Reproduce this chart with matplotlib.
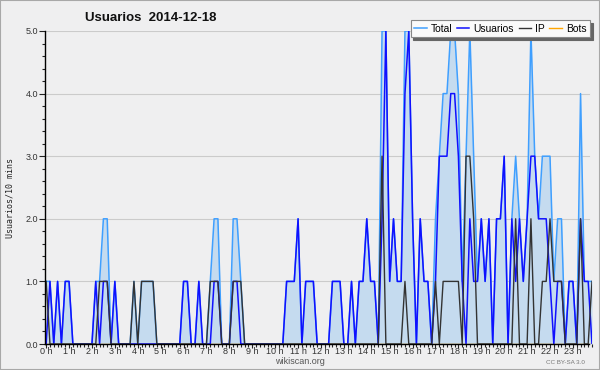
import matplotlib
matplotlib.use("Agg")
import matplotlib.pyplot as plt
from matplotlib.patches import Rectangle
import numpy as np

plt.rcParams['font.family'] = ['Liberation Sans', 'DejaVu Sans']

title = "Usuarios  2014-12-18"
ylabel = "Usuarios/10 mins"
hour_labels = [f"{h} h" for h in range(24)]
series_names = ["Total", "Usuarios", "IP", "Bots"]

# one value per 10 minutes (144 slots), rows of one hour
total = [
    1, 1, 0, 1, 0, 1,   1, 0, 0, 0, 0, 0,   0, 1, 1, 2, 2, 0,   1, 0, 0, 0, 0, 1,
    0, 1, 1, 1, 1, 0,   0, 0, 0, 0, 0, 0,   1, 1, 0, 0, 1, 0,   0, 1, 2, 2, 0, 0,
    0, 2, 2, 1, 0, 0,   0, 0, 0, 0, 0, 0,   0, 0, 0, 1, 1, 1,   2, 0, 1, 1, 1, 0,
    0, 0, 0, 1, 1, 1,   0, 0, 1, 0, 1, 1,   2, 1, 1, 0, 5, 5,   1, 2, 1, 1, 5, 5,
    2, 0, 2, 1, 1, 0,   2, 3, 4, 4, 5, 5,   4, 1, 3, 5, 3, 1,   2, 1, 2, 0, 2, 2,
    3, 0, 2, 3, 2, 1,   2, 5, 3, 2, 3, 3,   3, 1, 2, 2, 0, 1,   1, 0, 4, 1, 1, 1,
]
usuarios = [
    0, 1, 0, 1, 0, 1,   1, 0, 0, 0, 0, 0,   0, 1, 0, 1, 1, 0,   1, 0, 0, 0, 0, 0,
    0, 0, 0, 0, 0, 0,   0, 0, 0, 0, 0, 0,   1, 1, 0, 0, 1, 0,   0, 0, 1, 1, 0, 0,
    0, 1, 1, 0, 0, 0,   0, 0, 0, 0, 0, 0,   0, 0, 0, 1, 1, 1,   2, 0, 1, 1, 1, 0,
    0, 0, 0, 1, 1, 1,   0, 0, 1, 0, 1, 1,   2, 1, 1, 0, 2, 5,   1, 2, 1, 1, 4, 5,
    2, 0, 2, 1, 1, 0,   1, 3, 3, 3, 4, 4,   3, 1, 0, 2, 1, 1,   2, 1, 2, 0, 2, 2,
    3, 0, 2, 1, 2, 1,   2, 3, 3, 2, 2, 2,   1, 0, 1, 1, 0, 1,   1, 0, 2, 1, 1, 0,
]
ip = [
    1, 0, 0, 0, 0, 0,   0, 0, 0, 0, 0, 0,   0, 0, 1, 1, 1, 0,   0, 0, 0, 0, 0, 1,
    0, 1, 1, 1, 1, 0,   0, 0, 0, 0, 0, 0,   0, 0, 0, 0, 0, 0,   0, 1, 1, 1, 0, 0,
    0, 1, 1, 1, 0, 0,   0, 0, 0, 0, 0, 0,   0, 0, 0, 0, 0, 0,   0, 0, 0, 0, 0, 0,
    0, 0, 0, 0, 0, 0,   0, 0, 0, 0, 0, 0,   0, 0, 0, 0, 3, 0,   0, 0, 0, 0, 1, 0,
    0, 0, 0, 0, 0, 0,   1, 0, 1, 1, 1, 1,   1, 0, 3, 3, 2, 0,   0, 0, 0, 0, 0, 0,
    0, 0, 0, 2, 0, 0,   0, 2, 0, 0, 1, 1,   2, 1, 1, 1, 0, 0,   0, 0, 2, 0, 0, 1,
]
bots = [
    0, 0, 0, 0, 0, 0,   0, 0, 0, 0, 0, 0,   0, 0, 0, 0, 0, 0,   0, 0, 0, 0, 0, 0,
    0, 0, 0, 0, 0, 0,   0, 0, 0, 0, 0, 0,   0, 0, 0, 0, 0, 0,   0, 0, 0, 0, 0, 0,
    0, 0, 0, 0, 0, 0,   0, 0, 0, 0, 0, 0,   0, 0, 0, 0, 0, 0,   0, 0, 0, 0, 0, 0,
    0, 0, 0, 0, 0, 0,   0, 0, 0, 0, 0, 0,   0, 0, 0, 0, 0, 0,   0, 0, 0, 0, 0, 0,
    0, 0, 0, 0, 0, 0,   0, 0, 0, 0, 0, 0,   0, 0, 0, 0, 0, 0,   0, 0, 0, 0, 0, 0,
    0, 0, 0, 0, 0, 0,   0, 0, 0, 0, 0, 0,   0, 0, 0, 0, 0, 0,   0, 0, 0, 0, 0, 0,
]

BG = '#efeff0'
C_TOTAL = '#3f9fff'
C_FILL = '#c5dbef'
C_USERS = '#1010ff'
C_IP = '#333333'
C_BOTS = '#ffa500'

W, H = 600, 370
fig = plt.figure(figsize=(W / 100, H / 100), dpi=100)
fig.patch.set_facecolor(BG)
fig.patches.append(Rectangle((0, 0), 1, 1, transform=fig.transFigure,
                             fill=False, edgecolor='#a8a8a8', lw=1.5))

L, R, T, B = 45, 592, 31, 344
ax = fig.add_axes([L / W, 1 - B / H, (R - L) / W, (B - T) / H])
ax.set_facecolor(BG)

x = np.arange(len(total))
ax.fill_between(x, total, 0, color=C_FILL, lw=0, zorder=1)
ax.plot(x, total, color=C_TOTAL, lw=1.1, label=series_names[0], zorder=2)
ax.plot(x, usuarios, color=C_USERS, lw=1.1, label=series_names[1], zorder=3)
ax.plot(x, ip, color=C_IP, lw=1.0, label=series_names[2], zorder=4)
ax.plot(x, bots, color=C_BOTS, lw=1.0, label=series_names[3], zorder=1.5)

ax.set_xlim(-0.3, len(total) - 1)
ax.set_ylim(0, 5)

ax.set_xticks(np.arange(0, 144, 6))
ax.set_xticklabels(hour_labels)
ax.set_xticks(np.arange(0, 144, 1), minor=True)
ax.set_yticks(np.arange(0, 5.01, 1))
ax.set_yticklabels([f"{v:.1f}" for v in np.arange(0, 5.01, 1)])
ax.set_yticks(np.arange(0, 5.01, 0.2), minor=True)

ax.tick_params(axis='y', which='major', labelsize=6.5, colors='#222222',
               labelcolor='#333333', length=4, width=0.8, pad=1)
ax.tick_params(axis='y', which='minor', length=2.5, width=0.8, colors='#222222')
ax.tick_params(axis='x', which='major', labelsize=6.5, colors='#222222',
               labelcolor='#333333', length=3, width=0.8, pad=-0.5)
ax.tick_params(axis='x', which='minor', length=2.5, width=0.8, colors='#222222')

grid_end = (589 - L) / (R - L)
for v in range(1, 6):
    ax.axhline(v, xmax=grid_end, color='#cbcbcb', lw=0.8, zorder=0.5)

for s in ['top', 'right']:
    ax.spines[s].set_visible(False)
for s in ['left', 'bottom']:
    ax.spines[s].set_color('#000000')
    ax.spines[s].set_linewidth(1.0)
    ax.spines[s].set_zorder(6)
ax.spines['bottom'].set_bounds(-0.3, 142.1)

fig.text(85 / W, 1 - 18 / H, title, fontsize=9.5, fontweight='bold',
         va='center', ha='left', color='#111111')
fig.text(10 / W, 1 - 198 / H, ylabel, fontsize=6, rotation=90,
         va='center', ha='center', color='#222222', family=['DejaVu Sans Mono'])
fig.text(300 / W, 1 - 361 / H, "wikiscan.org", fontsize=6.5, ha='center',
         va='center', color='#555555')
fig.text(565 / W, 1 - 362 / H, "CC BY-SA 3.0", fontsize=4.5, ha='center',
         va='center', color='#777777')

leg = ax.legend(loc='upper right', bbox_to_anchor=(590 / W, 1 - 20 / H),
                bbox_transform=fig.transFigure, ncol=4, fontsize=7.4,
                handlelength=1.2, handletextpad=0.4, columnspacing=0.45,
                borderpad=0.35, borderaxespad=0, fancybox=False,
                frameon=True, shadow={'color': '#666666', 'alpha': 1.0})
leg.get_frame().set_facecolor('#fafafa')
leg.get_frame().set_edgecolor('#888888')
leg.get_frame().set_linewidth(0.8)
leg.set_zorder(10)

fig.savefig("out.png", dpi=100, facecolor=BG)
